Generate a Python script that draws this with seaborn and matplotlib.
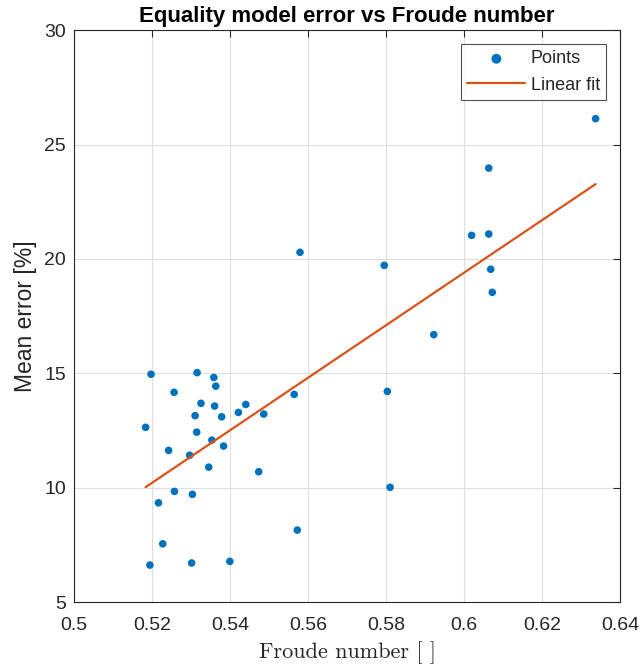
import matplotlib
matplotlib.use("Agg")
import matplotlib.pyplot as plt
import seaborn as sns
import numpy as np
import pandas as pd

froude = [0.5197, 0.5315, 0.5358, 0.5363, 0.5256, 0.5325, 0.5360, 0.5440, 0.5421, 0.5310,
          0.5378, 0.5486, 0.5183, 0.5314, 0.5353, 0.5383, 0.5242, 0.5296, 0.5345, 0.5473,
          0.5257, 0.5303, 0.5216, 0.5572, 0.5227, 0.5194, 0.5301, 0.5399, 0.5564, 0.5579,
          0.5795, 0.6019, 0.5922, 0.5803, 0.5810, 0.6337, 0.6063, 0.6063, 0.6068, 0.6072]
mean_error = [14.96, 15.03, 14.82, 14.44, 14.17, 13.69, 13.57, 13.64, 13.29, 13.15,
              13.10, 13.22, 12.64, 12.43, 12.08, 11.82, 11.63, 11.42, 10.90, 10.70,
              9.84, 9.71, 9.34, 8.15, 7.55, 6.62, 6.71, 6.78, 14.08, 20.29,
              19.72, 21.03, 16.69, 14.21, 10.02, 26.13, 23.97, 21.09, 19.55, 18.54]
x_ticks = [0.5, 0.52, 0.54, 0.56, 0.58, 0.6, 0.62, 0.64]
x_tick_labels = ["0.5", "0.52", "0.54", "0.56", "0.58", "0.6", "0.62", "0.64"]
y_ticks = [5, 10, 15, 20, 25, 30]

df = pd.DataFrame({"froude": froude, "err": mean_error})

sns.set_style("white")
plt.rcParams["font.family"] = ["Liberation Sans", "DejaVu Sans"]

fig = plt.figure(figsize=(6.4, 6.7), dpi=100)
ax = fig.add_axes([0.116, 0.1013, 0.853, 0.8537])

blue = "#0072BD"
orange = "#D95319"

sns.scatterplot(data=df, x="froude", y="err", ax=ax, color=blue, s=30,
                edgecolor="none", label="Points", zorder=3)
coef = np.polyfit(df["froude"], df["err"], 1)
xs = np.array([df["froude"].min(), df["froude"].max()])
sns.lineplot(x=xs, y=np.polyval(coef, xs), ax=ax, color=orange, lw=1.6,
             label="Linear fit", zorder=4)

ax.set_xlim(0.5, 0.64)
ax.set_ylim(5, 30)
ax.set_xticks(x_ticks)
ax.set_xticklabels(x_tick_labels)
ax.set_yticks(y_ticks)
ax.grid(True, color="#dfdfdf", lw=0.8)
ax.set_axisbelow(True)
for s in ax.spines.values():
    s.set_visible(True)
    s.set_color("#262626")
    s.set_linewidth(0.8)
ax.tick_params(direction="in", length=5, width=0.8, top=True, right=True,
               labelsize=14, colors="#262626")
ax.tick_params(axis="x", pad=11)
ax.tick_params(axis="y", pad=6)

ax.set_title("Equality model error vs Froude number", fontsize=16, fontweight="bold",
             pad=6, color="black")
ax.set_ylabel("Mean error [%]", fontsize=16.5, color="#262626", labelpad=5)
ax.set_xlabel("Froude number [ ]", fontsize=16, family=["cmr10", "DejaVu Serif"],
              color="#262626", labelpad=5)

leg = ax.legend(loc="upper right", fontsize=13, frameon=True, fancybox=False,
                edgecolor="#262626", borderpad=0.35, handlelength=3.2, handletextpad=0.3,
                markerscale=1.3, borderaxespad=0, bbox_to_anchor=(0.9745, 0.9755))
leg.get_frame().set_linewidth(0.8)

fig.savefig("out.png", dpi=100)
